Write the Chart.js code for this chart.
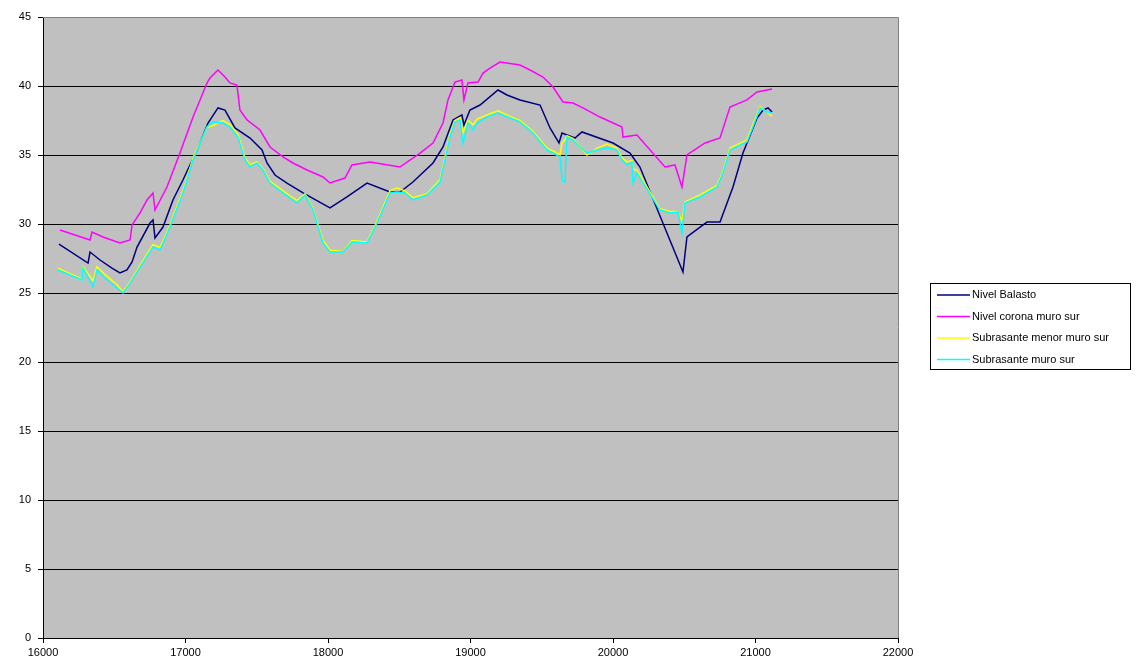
<!DOCTYPE html>
<html>
<head>
<meta charset="utf-8">
<script src="https://cdn.jsdelivr.net/npm/chart.js@4/dist/chart.umd.min.js"></script>
<style>
  html, body { margin: 0; padding: 0; background: #fff; }
  #wrap { width: 1142px; height: 671px; }
</style>
</head>
<body>
<div id="wrap"><canvas id="chart"></canvas></div>
<script>
// series names
let seriesNames = ["Nivel Balasto", "Nivel corona muro sur", "Subrasante menor muro sur", "Subrasante muro sur"];

// Nivel Balasto
let balastoX = [16112, 16316, 16330, 16400, 16484, 16540, 16589, 16625, 16660, 16751, 16772, 16786, 16842, 16912, 16982, 17081, 17158, 17228, 17277, 17347, 17453, 17537, 17572, 17628, 17712, 17825, 18014, 18133, 18274, 18435, 18505, 18596, 18737, 18807, 18877, 18940, 18954, 18996, 19067, 19193, 19256, 19347, 19488, 19558, 19621, 19642, 19677, 19733, 19782, 20000, 20119, 20189, 20491, 20519, 20611, 20660, 20751, 20842, 20912, 21011, 21053, 21088, 21116];
let balastoY = [28.55, 27.17, 27.97, 27.39, 26.81, 26.45, 26.67, 27.25, 28.33, 30.07, 30.29, 28.99, 29.78, 31.74, 33.19, 35.36, 37.32, 38.41, 38.26, 36.96, 36.23, 35.36, 34.42, 33.55, 32.97, 32.25, 31.16, 31.96, 32.97, 32.32, 32.32, 33.04, 34.42, 35.58, 37.54, 37.9, 37.17, 38.26, 38.62, 39.71, 39.35, 38.99, 38.62, 36.96, 35.87, 36.59, 36.45, 36.23, 36.67, 35.87, 35.14, 34.13, 26.52, 29.06, 29.78, 30.14, 30.14, 32.68, 35.14, 37.68, 38.26, 38.41, 38.12];

// Nivel corona muro sur
let coronaX = [16119, 16330, 16344, 16421, 16540, 16611, 16625, 16681, 16730, 16772, 16786, 16870, 16961, 17053, 17151, 17172, 17228, 17277, 17312, 17361, 17382, 17432, 17523, 17593, 17684, 17754, 17853, 17965, 18014, 18119, 18168, 18295, 18505, 18646, 18737, 18807, 18842, 18891, 18940, 18954, 18982, 19053, 19088, 19137, 19207, 19347, 19418, 19509, 19579, 19649, 19719, 19789, 19909, 20063, 20070, 20168, 20365, 20435, 20484, 20519, 20646, 20751, 20821, 20940, 21011, 21116];
let coronaY = [29.57, 28.84, 29.42, 29.06, 28.62, 28.84, 29.93, 30.8, 31.74, 32.25, 31.01, 32.68, 35.14, 37.75, 40.22, 40.58, 41.16, 40.65, 40.22, 40.07, 38.26, 37.54, 36.81, 35.58, 34.86, 34.42, 33.91, 33.41, 32.97, 33.33, 34.28, 34.49, 34.13, 35.14, 35.87, 37.32, 38.99, 40.29, 40.43, 38.99, 40.22, 40.29, 40.94, 41.3, 41.74, 41.52, 41.16, 40.65, 39.93, 38.84, 38.77, 38.41, 37.75, 37.03, 36.3, 36.45, 34.13, 34.28, 32.68, 35.0, 35.87, 36.23, 38.48, 38.99, 39.57, 39.78];

// Subrasante (both series share the same stations)
let subX = [16105, 16189, 16274, 16281, 16351, 16379, 16449, 16519, 16561, 16611, 16681, 16772, 16821, 16891, 16982, 17053, 17151, 17186, 17263, 17312, 17368, 17418, 17453, 17502, 17544, 17593, 17684, 17782, 17839, 17895, 17965, 18014, 18105, 18168, 18274, 18344, 18435, 18484, 18540, 18596, 18695, 18786, 18856, 18891, 18926, 18947, 18982, 19018, 19046, 19116, 19193, 19277, 19347, 19439, 19537, 19579, 19628, 19642, 19663, 19677, 19719, 19768, 19817, 19888, 19958, 20028, 20063, 20098, 20133, 20140, 20168, 20330, 20400, 20456, 20484, 20505, 20611, 20730, 20772, 20821, 20940, 20982, 21032, 21081, 21116];
let menorY = [26.8, 26.4, 26.0, 26.9, 25.9, 26.9, 26.2, 25.6, 25.1, 25.8, 27.0, 28.5, 28.3, 29.9, 32.4, 34.8, 37.0, 37.1, 37.5, 37.2, 36.5, 34.8, 34.3, 34.5, 34.0, 33.1, 32.4, 31.7, 32.2, 31.1, 28.8, 28.1, 28.0, 28.8, 28.7, 30.2, 32.4, 32.6, 32.4, 31.9, 32.2, 33.2, 36.5, 37.5, 37.7, 36.6, 37.5, 37.2, 37.6, 37.9, 38.2, 37.8, 37.5, 36.7, 35.5, 35.3, 35.0, 35.9, 36.1, 36.4, 36.2, 35.6, 35.0, 35.5, 35.8, 35.5, 34.8, 34.5, 34.6, 34.0, 33.9, 31.1, 30.9, 30.9, 30.2, 31.6, 32.1, 32.8, 33.8, 35.5, 36.1, 37.2, 38.5, 38.1, 37.8];
let muroY = [26.67, 26.3, 25.94, 26.81, 25.43, 26.67, 25.94, 25.36, 25.0, 25.72, 26.88, 28.33, 28.12, 29.78, 32.25, 34.64, 37.03, 37.39, 37.32, 37.03, 36.3, 34.64, 34.13, 34.42, 33.91, 32.97, 32.25, 31.52, 32.1, 31.01, 28.62, 27.97, 27.97, 28.7, 28.62, 30.07, 32.25, 32.32, 32.25, 31.74, 32.1, 33.04, 36.3, 37.39, 37.54, 35.87, 37.32, 36.81, 37.32, 37.75, 38.04, 37.68, 37.39, 36.59, 35.36, 35.14, 34.86, 33.19, 33.04, 36.3, 36.09, 35.58, 35.14, 35.36, 35.51, 35.36, 34.64, 34.28, 34.49, 32.97, 33.7, 31.01, 30.8, 30.87, 29.35, 31.52, 31.96, 32.68, 33.7, 35.36, 35.94, 37.03, 38.41, 38.12, 38.04];

let colors = ["#000080", "#FF00FF", "#FFFF00", "#00FFFF"];
let xTicks = [16000, 17000, 18000, 19000, 20000, 21000, 22000];

function pts(xs, ys) {
  return xs.map((x, i) => ({ x: x, y: ys[i] }));
}

// gray plot area and its border
const plotBg = {
  id: 'plotBg',
  beforeDraw(chart) {
    const { ctx, chartArea: a } = chart;
    ctx.save();
    ctx.fillStyle = '#fff';
    ctx.fillRect(0, 0, chart.width, chart.height);
    ctx.fillStyle = '#C0C0C0';
    ctx.fillRect(a.left, a.top, a.right - a.left, a.bottom - a.top);
    ctx.restore();
  },
  afterDraw(chart) {
    const { ctx, chartArea: a } = chart;
    ctx.save();
    ctx.strokeStyle = '#808080';
    ctx.lineWidth = 1;
    ctx.beginPath();
    ctx.moveTo(a.left, a.top + 0.5);
    ctx.lineTo(a.right + 0.5, a.top + 0.5);
    ctx.lineTo(a.right + 0.5, a.bottom);
    ctx.stroke();
    ctx.restore();
  }
};

// excel-like legend with a frame
const boxLegend = {
  id: 'boxLegend',
  afterDraw(chart) {
    const ctx = chart.ctx;
    const bx = 930, by = 283, bw = 200, bh = 86;
    ctx.save();
    ctx.fillStyle = '#fff';
    ctx.fillRect(bx, by, bw, bh);
    ctx.strokeStyle = '#000';
    ctx.lineWidth = 1;
    ctx.strokeRect(bx + 0.5, by + 0.5, bw, bh);
    ctx.font = '11px "Liberation Sans", Arial, sans-serif';
    ctx.textBaseline = 'middle';
    chart.data.datasets.forEach((ds, i) => {
      const y = by + 12 + i * 21.5;
      ctx.strokeStyle = ds.borderColor;
      ctx.lineWidth = 1.5;
      ctx.beginPath();
      ctx.moveTo(bx + 7, y);
      ctx.lineTo(bx + 40, y);
      ctx.stroke();
      ctx.fillStyle = '#000';
      ctx.fillText(ds.label, bx + 42, y);
    });
    ctx.restore();
  }
};

let datasets = [
  { label: seriesNames[0], data: pts(balastoX, balastoY), borderColor: colors[0], order: 4 },
  { label: seriesNames[1], data: pts(coronaX, coronaY), borderColor: colors[1], order: 3 },
  { label: seriesNames[2], data: pts(subX, menorY), borderColor: colors[2], order: 2 },
  { label: seriesNames[3], data: pts(subX, muroY), borderColor: colors[3], order: 1 }
];
datasets.forEach(d => {
  d.borderWidth = 1.5;
  d.pointRadius = 0;
  d.tension = 0;
  d.fill = false;
});

new Chart(document.getElementById('chart'), {
  type: 'line',
  data: { datasets: datasets },
  plugins: [plotBg, boxLegend],
  options: {
    responsive: true,
    maintainAspectRatio: false,
    animation: false,
    layout: { padding: { top: 17, right: 244, bottom: 0, left: 0 } },
    plugins: {
      legend: { display: false },
      tooltip: { enabled: false }
    },
    scales: {
      x: {
        type: 'linear',
        min: 16000,
        max: 22000,
        afterBuildTicks: (scale) => { scale.ticks = xTicks.map(v => ({ value: v })); },
        afterFit: (scale) => { scale.height = 33; },
        border: { color: '#000', width: 1 },
        grid: { drawOnChartArea: false, tickLength: 5, tickColor: '#000' },
        ticks: {
          color: '#000',
          padding: 3,
          maxRotation: 0,
          callback: (v) => String(v),
          font: { family: '"Liberation Sans", Arial, sans-serif', size: 11 }
        }
      },
      y: {
        min: 0,
        max: 45,
        afterFit: (scale) => { scale.width = 43; },
        border: { color: '#000', width: 1 },
        grid: {
          color: (c) => (c.tick && c.tick.value === 45) ? 'rgba(0,0,0,0)' : '#000',
          tickColor: '#000',
          tickLength: 5
        },
        ticks: {
          stepSize: 5,
          color: '#000',
          padding: 7,
          callback: (v) => String(v),
          font: { family: '"Liberation Sans", Arial, sans-serif', size: 11 }
        }
      }
    }
  }
});
</script>
</body>
</html>
